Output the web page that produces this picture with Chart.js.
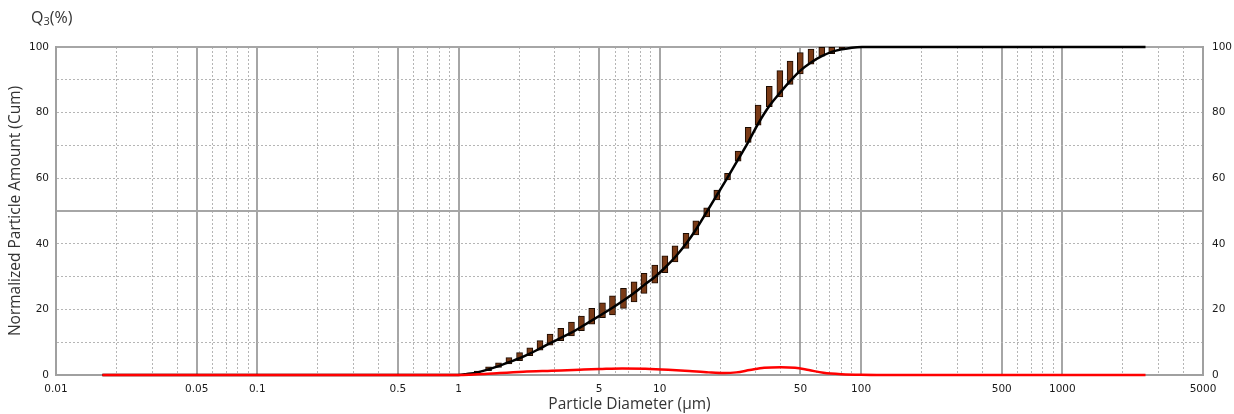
<!DOCTYPE html>
<html>
<head>
<meta charset="utf-8">
<script src="https://cdn.jsdelivr.net/npm/chart.js@4.4.1/dist/chart.umd.min.js"></script>
<style>
  body { margin: 0; background: #fff; }
  #wrap { position: relative; width: 1234px; height: 414px; }
  #q3 { position: absolute; left: 31px; top: 6px; font: 16px "Open Sans", sans-serif; color: #333; }
  #q3 sub { font-size: 11px; vertical-align: -2px; }
</style>
</head>
<body>
<div id="wrap">
  <canvas id="psdChart"></canvas>
  <div id="q3">Q<sub>3</sub>(%)</div>
</div>
<script>
// size classes with a spread bar (um)
const classDiameters = [1.24, 1.41, 1.58, 1.78, 2.01, 2.26, 2.54, 2.85, 3.22, 3.64, 4.08, 4.59,
  5.19, 5.82, 6.60, 7.45, 8.35, 9.44, 10.6, 11.9, 13.5, 15.1, 17.1, 19.2,
  21.7, 24.5, 27.5, 30.8, 35.0, 39.5, 44.4, 49.9, 56.4, 63.8, 71.5, 80.5];
const spreadLow = [0.5, 1.3, 2.3, 3.4, 4.4, 5.9, 7.6, 9.1, 10.5, 11.9, 13.5, 15.5,
  17.5, 18.3, 20.3, 22.3, 24.9, 28.0, 31.2, 34.5, 38.6, 42.7, 48.2, 53.4,
  59.5, 65.2, 70.9, 76.2, 81.8, 84.8, 88.6, 91.8, 94.8, 97.2, 98.0, 99.2];
const spreadHigh = [1.2, 2.5, 3.7, 5.3, 6.8, 8.3, 10.5, 12.5, 14.2, 16.1, 18.0, 20.3,
  22.0, 24.1, 26.4, 28.4, 31.0, 33.5, 36.3, 39.4, 43.2, 47.0, 51.0, 56.4,
  61.5, 68.3, 75.5, 82.3, 88.0, 92.8, 95.7, 98.3, 99.4, 99.9, 99.9, 100];

// cumulative curve
const cumDiameters = [0.017, 1.0, 1.1, 1.24, 1.41, 1.58, 1.78, 2.01, 2.26, 2.54, 2.85, 3.22, 3.64, 4.08, 4.59,
  5.19, 5.82, 6.60, 7.45, 8.35, 9.44, 10.6, 11.9, 13.5, 15.1, 17.1, 19.2,
  21.7, 24.5, 27.5, 30.8, 35.0, 39.5, 44.4, 49.9, 56.4, 63.8, 71.5, 80.5, 90, 101, 2590];
const cumValues = [0, 0, 0.3, 0.8, 1.7, 2.7, 3.9, 5.1, 6.5, 8.1, 9.7, 11.3, 12.9, 14.7, 16.6,
  18.6, 20.5, 22.7, 25.0, 27.4, 29.9, 32.7, 35.9, 40.0, 44.3, 49.7, 54.8,
  60.2, 65.7, 71.0, 76.6, 82.0, 86.0, 89.6, 92.8, 95.3, 97.2, 98.5, 99.3, 99.8, 100, 100];

// frequency curve (red)
const freqDiameters = [0.017, 1.0, 1.15, 1.35, 1.6, 2.1, 2.9, 4.0, 5.0, 6.5, 8.5, 11, 14, 17.5,
  21, 24, 28, 33, 40, 47, 55, 65, 80, 100, 130, 2590];
const freqValues = [0, 0, 0.1, 0.3, 0.6, 1.0, 1.3, 1.6, 1.8, 2.0, 1.9, 1.6, 1.2, 0.8,
  0.6, 0.8, 1.5, 2.2, 2.4, 2.2, 1.5, 0.7, 0.25, 0.05, 0, 0];

const xLabelValues = [0.01, 0.05, 0.1, 0.5, 1, 5, 10, 50, 100, 500, 1000, 5000];
const yLabelValues = [0, 20, 40, 60, 80, 100];

// grid positions: 1..9 x 10^n up to 5000
const xGridValues = [];
for (let e = -2; e <= 3; e++) {
  for (let m = 1; m <= 9; m++) {
    const v = Number((m * Math.pow(10, e)).toPrecision(6));
    if (v <= 5000) xGridValues.push(v);
  }
}
const yGridValues = [0, 10, 20, 30, 40, 50, 60, 70, 80, 90, 100];

const isMajorX = v => [1, 5].includes(Number((v / Math.pow(10, Math.floor(Math.log10(v) + 1e-9))).toPrecision(3)));
const isMajorY = v => v === 0 || v === 50 || v === 100;

const tickFont = { family: 'DejaVu Sans', size: 10.5 };
const titleFont = { family: 'Open Sans', size: 15.5 };

const ctx = document.getElementById('psdChart');

new Chart(ctx, {
  type: 'bar',
  data: {
    datasets: [
      {
        type: 'line',
        label: 'q3',
        data: freqDiameters.map((d, i) => ({ x: d, y: freqValues[i] })),
        borderColor: '#ff0000',
        borderWidth: 2.5,
        pointRadius: 0,
        cubicInterpolationMode: 'monotone',
        clip: false,
        order: 0
      },
      {
        type: 'line',
        label: 'Q3',
        data: cumDiameters.map((d, i) => ({ x: d, y: cumValues[i] })),
        borderColor: '#000',
        borderWidth: 2.5,
        pointRadius: 0,
        cubicInterpolationMode: 'monotone',
        clip: false,
        order: 1
      },
      {
        type: 'bar',
        label: 'spread',
        data: classDiameters.map((d, i) => ({ x: d, y: [spreadLow[i], spreadHigh[i]] })),
        backgroundColor: '#7a3a16',
        borderColor: '#1a0a00',
        borderWidth: 1,
        borderSkipped: false,
        barThickness: 6,
        order: 2
      }
    ]
  },
  options: {
    responsive: true,
    maintainAspectRatio: false,
    animation: false,
    layout: { padding: { top: 47, left: 0, right: 0, bottom: 0 } },
    plugins: { legend: { display: false }, tooltip: { enabled: false } },
    scales: {
      x: {
        type: 'logarithmic',
        min: 0.01,
        max: 5000,
        offset: false,
        afterBuildTicks: s => { s.ticks = xGridValues.map(v => ({ value: v })); },
        afterFit: s => { s.height = 39; },
        ticks: {
          autoSkip: false, maxRotation: 0, minRotation: 0, padding: 8,
          font: tickFont, color: '#1a1a1a',
          callback: v => xLabelValues.includes(v) ? String(v) : ''
        },
        grid: {
          offset: false,
          drawTicks: false,
          color: c => c.tick && isMajorX(c.tick.value) ? '#a6a6a6' : '#b5b5b5',
          lineWidth: c => c.tick && isMajorX(c.tick.value) ? 2 : 1
        },
        border: {
          color: '#a0a0a0', width: 2,
          dash: c => c.tick && !isMajorX(c.tick.value) ? [2, 2] : []
        },
        title: {
          display: true, text: 'Particle Diameter (µm)',
          font: titleFont, color: '#333', padding: { top: 0, bottom: 0 }
        }
      },
      y: {
        position: 'left',
        min: 0,
        max: 100,
        afterBuildTicks: s => { s.ticks = yGridValues.map(v => ({ value: v })); },
        afterFit: s => { s.width = 56; },
        ticks: {
          autoSkip: false, padding: 7, font: tickFont, color: '#1a1a1a',
          callback: v => yLabelValues.includes(v) ? String(v) : ''
        },
        grid: {
          drawTicks: false,
          color: c => c.tick && isMajorY(c.tick.value) ? '#a6a6a6' : '#b5b5b5',
          lineWidth: c => c.tick && isMajorY(c.tick.value) ? 2 : 1
        },
        border: {
          color: '#a0a0a0', width: 2,
          dash: c => c.tick && !isMajorY(c.tick.value) ? [2, 2] : []
        },
        title: {
          display: true, text: 'Normalized Particle Amount (Cum)',
          font: titleFont, color: '#333', padding: { top: 6, bottom: 0 }
        }
      },
      y2: {
        position: 'right',
        min: 0,
        max: 100,
        afterBuildTicks: s => { s.ticks = yGridValues.map(v => ({ value: v })); },
        afterFit: s => { s.width = 31; },
        ticks: {
          autoSkip: false, padding: 9, font: tickFont, color: '#1a1a1a',
          callback: v => yLabelValues.includes(v) ? String(v) : ''
        },
        grid: { drawOnChartArea: false, drawTicks: false },
        border: { color: '#a0a0a0', width: 2 }
      }
    }
  }
});
</script>
</body>
</html>
